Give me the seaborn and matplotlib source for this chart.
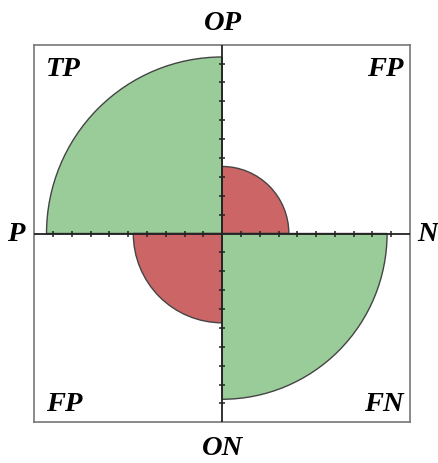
import numpy as np
import pandas as pd
import matplotlib
matplotlib.use("Agg")
import matplotlib.pyplot as plt
from matplotlib.patches import Wedge
import seaborn as sns

# ---- data ----
quadrants = ["TP", "FP", "FP", "FN"]          # top-left, top-right, bottom-left, bottom-right
radii = [9.35, 3.55, 4.73, 8.78]
angles_start = [90, 0, 180, 270]
kinds = ["correct", "error", "error", "correct"]
tick_values = list(range(-9, 0)) + list(range(1, 10))
side_labels = ["OP", "ON", "P", "N"]           # top, bottom, left, right

sns.set_theme(style="white")
plt.rcParams["font.family"] = ["Liberation Serif", "DejaVu Serif"]

palette = {"correct": "#99cc99", "error": "#cc6666"}

fig = plt.figure(figsize=(4.38, 4.64), dpi=100)
ax = fig.add_axes([34.3 / 438, (464 - 423.3) / 464, 375.7 / 438, 377.6 / 464])
ax.set_xlim(-10, 10)
ax.set_ylim(-10, 10)

df = pd.DataFrame({"quad": quadrants, "r": radii, "a": angles_start, "kind": kinds})
for _, row in df.iterrows():
    w = Wedge((0, 0), row["r"], row["a"], row["a"] + 90,
              facecolor=palette[row["kind"]], edgecolor="#444444", lw=1.0, zorder=2)
    ax.add_patch(w)

ax.axhline(0, color="#222222", lw=1.3, zorder=3)
ax.axvline(0, color="#222222", lw=1.3, zorder=3)

ticks = pd.DataFrame({"v": tick_values, "z": [0] * len(tick_values)})
sns.scatterplot(data=ticks, x="v", y="z", marker="|", s=22, color="#222222",
                linewidth=1.1, ax=ax, zorder=4, legend=False)
sns.scatterplot(data=ticks, x="z", y="v", marker="_", s=22, color="#222222",
                linewidth=1.1, ax=ax, zorder=4, legend=False)

ax.set_xticks([])
ax.set_yticks([])
ax.set_xlabel("")
ax.set_ylabel("")
for sp in ax.spines.values():
    sp.set_color("#777777")
    sp.set_linewidth(1.2)

fs = 20.5
tstyle = dict(fontsize=fs, fontweight="bold", fontstyle="italic", color="black")
W, H = 438, 464
# corner labels
fig.text(46 / W, 1 - 69 / H, quadrants[0], ha="left", va="center", **tstyle)
fig.text(403 / W, 1 - 69 / H, quadrants[1], ha="right", va="center", **tstyle)
fig.text(46 / W, 1 - 405 / H, quadrants[2], ha="left", va="center", **tstyle)
fig.text(404 / W, 1 - 405 / H, quadrants[3], ha="right", va="center", **tstyle)
# side labels
fig.text(223 / W, 1 - 24 / H, side_labels[0], ha="center", va="center", **tstyle)
fig.text(223 / W, 1 - 449 / H, side_labels[1], ha="center", va="center", **tstyle)
fig.text(16 / W, 1 - 235 / H, side_labels[2], ha="center", va="center", **tstyle)
fig.text(428 / W, 1 - 235 / H, side_labels[3], ha="center", va="center", **tstyle)

fig.savefig("out.png", dpi=100, facecolor="white")
